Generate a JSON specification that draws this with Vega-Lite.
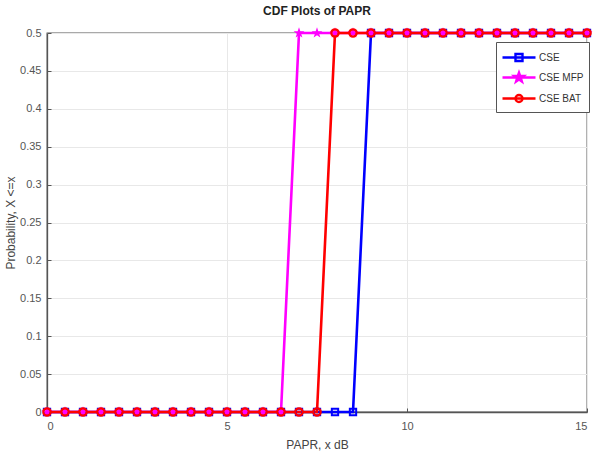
{
  "$schema": "https://vega.github.io/schema/vega-lite/v6.json",
  "width": 540,
  "height": 379,
  "autosize": {"type": "none"},
  "padding": {"left": 47, "top": 33, "right": 8, "bottom": 48},
  "background": "white",
  "config": {
    "font": "Liberation Sans Narrow, Liberation Sans, Arial",
    "view": {"stroke": "#555", "strokeWidth": 1.3},
    "axis": {
      "domainColor": "#555",
      "domainWidth": 1.3,
      "tickColor": "#555",
      "tickSize": -4,
      "labelPadding": 10,
      "labelColor": "#555",
      "labelFontSize": 11,
      "titleColor": "#444",
      "titleFontSize": 12,
      "titleFontWeight": "normal",
      "gridColor": "#e8e8e8",
      "gridWidth": 1
    }
  },
  "title": {
    "text": "CDF Plots of PAPR",
    "fontSize": 12,
    "fontWeight": "bold",
    "color": "#222",
    "anchor": "middle",
    "offset": 7
  },
  "data": {
    "values": [
      {"x": 0, "p": 0, "s": "CSE"}, {"x": 0.5, "p": 0, "s": "CSE"}, {"x": 1, "p": 0, "s": "CSE"}, {"x": 1.5, "p": 0, "s": "CSE"},
      {"x": 2, "p": 0, "s": "CSE"}, {"x": 2.5, "p": 0, "s": "CSE"}, {"x": 3, "p": 0, "s": "CSE"}, {"x": 3.5, "p": 0, "s": "CSE"},
      {"x": 4, "p": 0, "s": "CSE"}, {"x": 4.5, "p": 0, "s": "CSE"}, {"x": 5, "p": 0, "s": "CSE"}, {"x": 5.5, "p": 0, "s": "CSE"},
      {"x": 6, "p": 0, "s": "CSE"}, {"x": 6.5, "p": 0, "s": "CSE"}, {"x": 7, "p": 0, "s": "CSE"}, {"x": 7.5, "p": 0, "s": "CSE"},
      {"x": 8, "p": 0, "s": "CSE"}, {"x": 8.5, "p": 0, "s": "CSE"}, {"x": 9, "p": 0.5, "s": "CSE"}, {"x": 9.5, "p": 0.5, "s": "CSE"},
      {"x": 10, "p": 0.5, "s": "CSE"}, {"x": 10.5, "p": 0.5, "s": "CSE"}, {"x": 11, "p": 0.5, "s": "CSE"}, {"x": 11.5, "p": 0.5, "s": "CSE"},
      {"x": 12, "p": 0.5, "s": "CSE"}, {"x": 12.5, "p": 0.5, "s": "CSE"}, {"x": 13, "p": 0.5, "s": "CSE"}, {"x": 13.5, "p": 0.5, "s": "CSE"},
      {"x": 14, "p": 0.5, "s": "CSE"}, {"x": 14.5, "p": 0.5, "s": "CSE"}, {"x": 15, "p": 0.5, "s": "CSE"},

      {"x": 0, "p": 0, "s": "CSE MFP"}, {"x": 0.5, "p": 0, "s": "CSE MFP"}, {"x": 1, "p": 0, "s": "CSE MFP"}, {"x": 1.5, "p": 0, "s": "CSE MFP"},
      {"x": 2, "p": 0, "s": "CSE MFP"}, {"x": 2.5, "p": 0, "s": "CSE MFP"}, {"x": 3, "p": 0, "s": "CSE MFP"}, {"x": 3.5, "p": 0, "s": "CSE MFP"},
      {"x": 4, "p": 0, "s": "CSE MFP"}, {"x": 4.5, "p": 0, "s": "CSE MFP"}, {"x": 5, "p": 0, "s": "CSE MFP"}, {"x": 5.5, "p": 0, "s": "CSE MFP"},
      {"x": 6, "p": 0, "s": "CSE MFP"}, {"x": 6.5, "p": 0, "s": "CSE MFP"}, {"x": 7, "p": 0.5, "s": "CSE MFP"}, {"x": 7.5, "p": 0.5, "s": "CSE MFP"},
      {"x": 8, "p": 0.5, "s": "CSE MFP"}, {"x": 8.5, "p": 0.5, "s": "CSE MFP"}, {"x": 9, "p": 0.5, "s": "CSE MFP"}, {"x": 9.5, "p": 0.5, "s": "CSE MFP"},
      {"x": 10, "p": 0.5, "s": "CSE MFP"}, {"x": 10.5, "p": 0.5, "s": "CSE MFP"}, {"x": 11, "p": 0.5, "s": "CSE MFP"}, {"x": 11.5, "p": 0.5, "s": "CSE MFP"},
      {"x": 12, "p": 0.5, "s": "CSE MFP"}, {"x": 12.5, "p": 0.5, "s": "CSE MFP"}, {"x": 13, "p": 0.5, "s": "CSE MFP"}, {"x": 13.5, "p": 0.5, "s": "CSE MFP"},
      {"x": 14, "p": 0.5, "s": "CSE MFP"}, {"x": 14.5, "p": 0.5, "s": "CSE MFP"}, {"x": 15, "p": 0.5, "s": "CSE MFP"},

      {"x": 0, "p": 0, "s": "CSE BAT"}, {"x": 0.5, "p": 0, "s": "CSE BAT"}, {"x": 1, "p": 0, "s": "CSE BAT"}, {"x": 1.5, "p": 0, "s": "CSE BAT"},
      {"x": 2, "p": 0, "s": "CSE BAT"}, {"x": 2.5, "p": 0, "s": "CSE BAT"}, {"x": 3, "p": 0, "s": "CSE BAT"}, {"x": 3.5, "p": 0, "s": "CSE BAT"},
      {"x": 4, "p": 0, "s": "CSE BAT"}, {"x": 4.5, "p": 0, "s": "CSE BAT"}, {"x": 5, "p": 0, "s": "CSE BAT"}, {"x": 5.5, "p": 0, "s": "CSE BAT"},
      {"x": 6, "p": 0, "s": "CSE BAT"}, {"x": 6.5, "p": 0, "s": "CSE BAT"}, {"x": 7, "p": 0, "s": "CSE BAT"}, {"x": 7.5, "p": 0, "s": "CSE BAT"},
      {"x": 8, "p": 0.5, "s": "CSE BAT"}, {"x": 8.5, "p": 0.5, "s": "CSE BAT"}, {"x": 9, "p": 0.5, "s": "CSE BAT"}, {"x": 9.5, "p": 0.5, "s": "CSE BAT"},
      {"x": 10, "p": 0.5, "s": "CSE BAT"}, {"x": 10.5, "p": 0.5, "s": "CSE BAT"}, {"x": 11, "p": 0.5, "s": "CSE BAT"}, {"x": 11.5, "p": 0.5, "s": "CSE BAT"},
      {"x": 12, "p": 0.5, "s": "CSE BAT"}, {"x": 12.5, "p": 0.5, "s": "CSE BAT"}, {"x": 13, "p": 0.5, "s": "CSE BAT"}, {"x": 13.5, "p": 0.5, "s": "CSE BAT"},
      {"x": 14, "p": 0.5, "s": "CSE BAT"}, {"x": 14.5, "p": 0.5, "s": "CSE BAT"}, {"x": 15, "p": 0.5, "s": "CSE BAT"}
    ]
  },
  "encoding": {
    "x": {
      "field": "x",
      "type": "quantitative",
      "scale": {"domain": [0, 15], "nice": false, "zero": false},
      "axis": {"title": "PAPR, x dB", "values": [0, 5, 10, 15], "grid": true, "titlePadding": 8, "labelPadding": 12}
    },
    "y": {
      "field": "p",
      "type": "quantitative",
      "scale": {"domain": [0, 0.5], "nice": false},
      "axis": {
        "title": "Probability, X <=x",
        "values": [0, 0.05, 0.1, 0.15, 0.2, 0.25, 0.3, 0.35, 0.4, 0.45, 0.5],
        "format": "~g",
        "grid": true,
        "titlePadding": 2
      }
    }
  },
  "layer": [
    {
      "mark": {"type": "line", "strokeWidth": 2.6, "clip": false},
      "encoding": {
        "color": {
          "field": "s",
          "type": "nominal",
          "sort": ["CSE", "CSE MFP", "CSE BAT"],
          "scale": {"domain": ["CSE", "CSE MFP", "CSE BAT"], "range": ["#0000ff", "#ff00ff", "#ff0000"]},
          "legend": {
            "title": null,
            "orient": "none",
            "legendX": 449,
            "legendY": 9,
            "padding": 5,
            "strokeColor": "#555",
            "fillColor": "white",
            "symbolSize": 324,
            "symbolStrokeWidth": 2.4,
            "labelFontSize": 10,
            "labelColor": "#333",
            "labelOffset": 17,
            "rowPadding": 1,
            "encode": {
              "symbols": {
                "update": {
                  "shape": {"signal": "datum.value === 'CSE' ? 'M-1,0H2.667M0.444,-0.39H1.222V0.39H0.444Z' : datum.value === 'CSE MFP' ? 'M-1,0H2.667M0.833,-0.55L0.962,-0.178L1.356,-0.17L1.042,0.068L1.156,0.445L0.833,0.22L0.51,0.445L0.624,0.068L0.31,-0.17L0.704,-0.178Z' : 'M-1,0H2.667M1.223,0A0.39,0.39 0 1,1 0.443,0A0.39,0.39 0 1,1 1.223,0Z'"}
                }
              }
            }
          }
        },
        "order": {"field": "x", "type": "quantitative"}
      }
    },
    {
      "transform": [{"filter": "datum.s === 'CSE'"}],
      "mark": {"type": "point", "shape": "square", "size": 40, "filled": false, "strokeWidth": 2, "color": "#0000ff", "opacity": 1, "clip": false}
    },
    {
      "transform": [{"filter": "datum.s === 'CSE MFP'"}],
      "mark": {"type": "point", "shape": "M0,-1L0.235,-0.324L0.951,-0.309L0.380,0.124L0.588,0.809L0,0.4L-0.588,0.809L-0.380,0.124L-0.951,-0.309L-0.235,-0.324Z", "size": 130, "filled": true, "color": "#ff00ff", "opacity": 1, "clip": false}
    },
    {
      "transform": [{"filter": "datum.s === 'CSE BAT'"}],
      "mark": {"type": "point", "shape": "circle", "size": 55, "filled": false, "strokeWidth": 2.2, "color": "#ff0000", "opacity": 1, "clip": false}
    }
  ]
}
